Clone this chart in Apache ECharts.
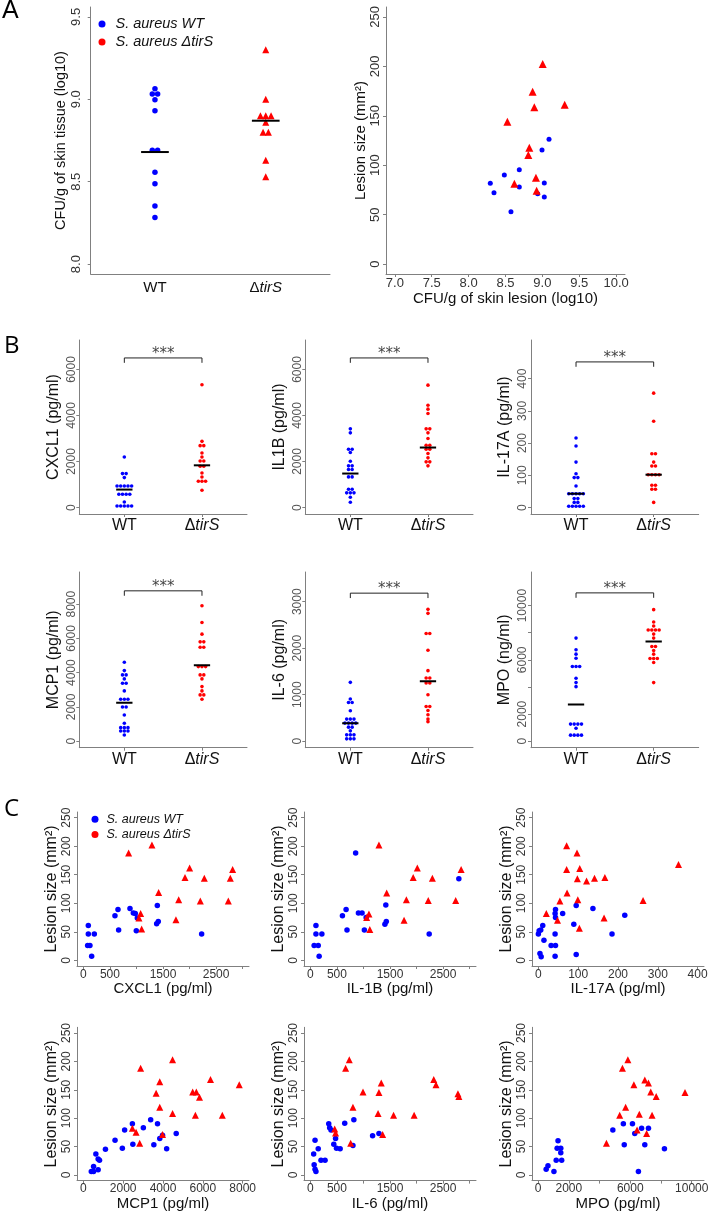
<!DOCTYPE html>
<html><head><meta charset="utf-8">
<script src="https://cdn.jsdelivr.net/npm/echarts@6/dist/echarts.min.js"></script>
<style>html,body{margin:0;padding:0;background:#fff}#c{width:714px;height:1212px}</style>
</head><body><div id="c"></div><script>
// ---------- DATA ----------
const WT_NAME = 'S. aureus WT';
const TIR_NAME = 'S. aureus \u0394tirS';
const groupLabels = ['WT', '\u0394tirS'];

// Panel A left: CFU/g of skin tissue (log10)
const aCfuWT  = [9.064, 9.032, 9.032, 8.997, 8.930, 8.691, 8.691, 8.557, 8.488, 8.352, 8.283];
const aCfuTir = [9.30, 9.00, 8.90, 8.90, 8.90, 8.86, 8.80, 8.80, 8.63, 8.53];
const aCfuMedian = [8.68, 8.87];
const aCfuTicks = [8.0, 8.5, 9.0, 9.5];

// Panel A right: lesion size vs CFU
const aLesWT  = [[8.294,81.7],[8.344,72.2],[8.484,90.1],[8.574,53],[8.687,95.5],[8.687,78],[8.936,71.2],[8.995,115.4],[9.026,82],[9.026,67.9],[9.09,126.2]];
const aLesTir = [[9.004,202.3],[8.868,174.4],[8.891,158.5],[9.302,161.2],[8.525,144],[8.823,117.7],[8.809,110.3],[8.913,87.4],[8.62,81.3],[8.922,74.3]];
const aCfuXTicks = [7.0, 7.5, 8.0, 8.5, 9.0, 9.5, 10.0];
const lesionTicks = [0, 50, 100, 150, 200, 250];

// Panel B: cytokines
const bNames = ['CXCL1 (pg/ml)', 'IL1B (pg/ml)', 'IL-17A (pg/ml)', 'MCP1 (pg/ml)', 'IL-6 (pg/ml)', 'MPO (ng/ml)'];
const cxcl1WT  = [2196,1475,1475,1301,937,937,937,937,937,577,577,577,577,243,69,69,69,69,69];
const cxcl1Tir = [5336,2876,2690,2690,2369,2196,2022,2022,1792,1792,1501,1328,1141,1141,1141,751];
const il1bWT   = [3420,3246,2536,2536,2391,2014,1811,1811,1652,1652,1333,1333,797,797,638,638,638,449,232];
const il1bTir  = [5318,4448,4275,4086,3420,3420,3246,3000,2710,2710,2536,2536,2347,2159,1985,1985,1811];
const il17aWT  = [216,191,141,105,93,93,67,43,43,43,43,43,28,28,16,16,4,4,4,4,4];
const il17aTir = [355,268,167,167,141,129,129,102,102,102,102,69,69,57,57,16];
const mcp1WT   = [4614,4123,3871,3871,3637,3384,3384,2936,2450,2450,2450,2000,2000,1532,1047,790,790,790,596,596,596,363];
const mcp1Tir  = [7906,6930,6250,5801,5801,5490,5490,4357,4357,4357,3871,3871,3637,3187,2936,2702,2702,2450];
const il6WT    = [1266,907,834,834,654,475,475,475,389,389,389,389,302,302,222,136,136,136,50,50,50];
const il6Tir   = [2836,2750,2318,2318,1957,1518,1360,1360,1253,1253,1000,747,747,661,568,475,420];
const mpoWT    = [7605,6740,6420,6123,5506,5506,5506,4642,4321,4025,1259,1259,1259,1259,950,444,444,444,444];
const mpoTir   = [9704,8790,8494,8198,8198,8198,8198,7901,7605,6988,6988,6691,6420,6099,6099,6099,5802,4321];
const bMedianWT  = [781, 1478, 43, 2251, 387, 2706];
const bMedianTir = [1835, 2608, 102, 4440, 1287, 7358];
const bBracket   = [6500, 6500, 452, 8780, 3185, 10940];
const bRange = [[-280,7280],[-280,7280],[-20,520],[-380,9880],[-140,3640],[-480,12480]];
const bTicks = [[0,2000,4000,6000],[0,2000,4000,6000],[0,100,200,300,400],[0,2000,4000,6000,8000],[0,1000,2000,3000],[0,2000,4000,6000,8000,10000]];
const bTickLabels = [[0,2000,4000,6000],[0,2000,4000,6000],[0,100,200,300,400],[0,2000,4000,6000,8000],[0,1000,2000,3000],[0,2000,6000,10000]];

// Panel C: lesion size vs cytokine
const cNames = ['CXCL1 (pg/ml)', 'IL-1B (pg/ml)', 'IL-17A (pg/ml)', 'MCP1 (pg/ml)', 'IL-6 (pg/ml)', 'MPO (pg/ml)'];
const cCxcl1WT  = [[93,61],[93,46],[206,46],[124,26],[80,26],[156,7],[595,78],[652,89],[664,53],[878,91],[941,83],[978,82],[1016,74],[997,52],[1380,64],[1393,96],[1411,68],[2228,46]];
const cCxcl1Tir = [[853,188],[1292,202],[1079,82],[1047,74],[1098,55],[1418,119],[1744,71],[1795,106],[1914,145],[2002,162],[2203,104],[2278,144],[2730,104],[2768,144],[2812,159]];
const cIl1bWT   = [[105,61],[105,46],[217,46],[71,26],[148,26],[165,7],[604,78],[673,89],[690,53],[853,188],[905,83],[974,83],[1017,53],[1051,75],[1404,63],[1421,97],[1430,68],[2238,46],[2797,143]];
const cIl1bTir  = [[1103,81],[1060,75],[1120,54],[1292,202],[1438,118],[1765,70],[1808,106],[1937,145],[2015,162],[2221,105],[2298,144],[2737,105],[2840,159]];
const cIl17aWT  = [[0,46],[2,52],[6,53],[11,61],[14,35],[4,12],[7,6],[32,26],[43,89],[42,82],[43,75],[42,46],[43,26],[42,7],[61,82],[89,63],[95,96],[95,10],[137,91],[185,46],[217,79]];
const cIl17aTir = [[20,82],[48,70],[54,104],[71,201],[71,159],[72,118],[97,188],[98,143],[99,106],[104,161],[103,56],[121,139],[141,144],[165,74],[167,145],[263,105],[352,168]];
const cMcp1WT   = [[513,15],[513,6],[398,6],[627,37],[742,9],[742,28],[811,26],[1109,45],[1591,61],[1958,47],[2072,79],[2462,90],[2485,54],[3013,83],[3380,97],[3540,53],[3724,90],[3838,64],[3976,70],[4183,46],[4664,73]];
const cMcp1Tir  = [[2462,82],[2646,75],[2829,56],[2875,188],[3655,144],[3838,164],[3838,119],[3976,71],[4481,203],[4481,108],[5490,146],[5627,105],[5674,146],[5834,137],[6385,168],[6980,105],[7829,159]];
const cIl6WT    = [[71,18],[88,10],[105,6],[62,37],[88,61],[148,46],[200,26],[277,26],[346,90],[363,83],[389,79],[441,54],[475,64],[492,47],[561,46],[647,91],[802,52],[819,97],[1172,69],[1292,73]];
const cIl6Tir   = [[458,81],[475,74],[759,56],[664,188],[733,203],[802,119],[991,146],[1275,108],[1292,145],[1335,162],[1361,71],[1567,105],[1954,105],[2324,168],[2367,159],[2780,143],[2797,138]];
const cMpoWT    = [[522,10],[641,16],[1028,6],[1176,26],[1236,47],[1295,60],[1474,39],[1474,47],[1533,26],[4864,79],[5548,90],[5607,53],[6142,90],[6291,73],[6529,6],[6737,82],[6945,53],[7183,82],[8224,46]];
const cMpoTir   = [[4447,56],[5309,105],[5488,188],[5696,119],[5845,203],[6232,159],[6440,79],[6588,107],[6945,167],[7064,73],[7331,146],[7420,105],[7688,138],[7183,162],[9562,145]];
const cRangeX = [[-120,3120],[-120,3120],[-16,416],[-320,8320],[-120,3120],[-400,10800]];
const cTicks = [[0,500,1000,1500,2000,2500,3000],[0,500,1000,1500,2000,2500,3000],[0,100,200,300,400],[0,2000,4000,6000,8000],[0,500,1000,1500,2000,2500,3000],[0,2000,4000,6000,8000,10000]];
const cTickLabels = [[0,500,1500,2500],[0,500,1500,2500],[0,100,200,300,400],[0,2000,4000,6000,8000],[0,500,1500,2500],[0,2000,6000,10000]];

// ---------- STYLE / LAYOUT ----------
const FONT = '"Liberation Sans", Arial, sans-serif';
const BLUE = '#0000ff', RED = '#ff0000', AXC = '#808080';
const grids = [], xAxes = [], yAxes = [], series = [];

function stack(values, center, step) {
  const groups = new Map();
  values.forEach(v => { if (!groups.has(v)) groups.set(v, 0); groups.set(v, groups.get(v) + 1); });
  const out = [];
  groups.forEach((n, v) => { for (let i = 0; i < n; i++) out.push([center + (i - (n - 1) / 2) * step, v]); });
  return out;
}
function axis(o) {
  return {
    type: 'value', gridIndex: o.g, min: o.min, max: o.max,
    axisLine: { show: true, onZero: false, lineStyle: { color: AXC, width: 1 } },
    axisTick: { show: !!o.ticks, length: 3, customValues: o.ticks || undefined, lineStyle: { color: AXC } },
    axisLabel: { show: true, customValues: o.labels, formatter: o.fmt, rotate: o.rot || 0, margin: o.margin,
      fontSize: o.fs, color: o.color, fontFamily: FONT, rich: o.rich },
    splitLine: { show: false },
    name: o.name, nameLocation: 'middle', nameGap: o.nameGap,
    nameTextStyle: { fontSize: o.nfs, color: '#111', fontFamily: FONT }
  };
}
const groupRich = (fs, col) => ({ n: { fontSize: fs, color: col, fontFamily: FONT }, i: { fontSize: fs, color: col, fontFamily: FONT, fontStyle: 'italic' } });
const groupFmt = v => (Math.abs(v - 1) < 1e-6 ? groupLabels[0] : '{n|\u0394}{i|' + groupLabels[1].slice(1) + '}');

function stripPanel(g, box, yr, yTicks, yLabels, yFmt, yName, wt, tir, medWT, medTir, o) {
  grids.push({ left: box[0], top: box[1], width: box[2], height: box[3], containLabel: false });
  xAxes.push(axis({ g, min: 0.42, max: 2.58, ticks: o.xTicks ? [1, 2] : null, labels: [1, 2], fmt: groupFmt,
    margin: o.xMargin, fs: o.xfs, color: '#111', rich: groupRich(o.xfs, '#111') }));
  yAxes.push(axis({ g, min: yr[0], max: yr[1], ticks: yTicks, labels: yLabels, fmt: yFmt, rot: 90,
    margin: o.yMargin, fs: o.yfs, color: o.ycol, name: yName, nameGap: o.nameGap, nfs: o.nfs }));
  series.push({ type: 'scatter', name: WT_NAME, xAxisIndex: g, yAxisIndex: g, data: stack(wt, 1, o.step),
    symbol: 'circle', symbolSize: o.dot, itemStyle: { color: BLUE, opacity: 1 }, z: 3 });
  series.push({ type: 'scatter', name: TIR_NAME, xAxisIndex: g, yAxisIndex: g, data: stack(tir, 2, o.step),
    symbol: o.tirSym, symbolSize: o.tirSize, itemStyle: { color: RED, opacity: 1 }, z: 3 });
  [[1, medWT], [2, medTir]].forEach(([c, m]) => series.push({ type: 'line', xAxisIndex: g, yAxisIndex: g,
    data: [[c - o.half, m], [c + o.half, m]], symbol: 'none', lineStyle: { color: '#000', width: 2 }, z: 5 }));
}
function scatterPanel(g, box, xr, xTicks, xLabels, xFmt, xName, wt, tir, o) {
  grids.push({ left: box[0], top: box[1], width: box[2], height: box[3], containLabel: false });
  xAxes.push(axis({ g, min: xr[0], max: xr[1], ticks: xTicks, labels: xLabels, fmt: xFmt,
    margin: o.xMargin, fs: o.xfs, color: '#333', name: xName, nameGap: o.xNameGap, nfs: o.xnfs }));
  yAxes.push(axis({ g, min: -10, max: 260, ticks: lesionTicks, labels: lesionTicks, fmt: v => String(v), rot: 90,
    margin: o.yMargin, fs: o.yfs, color: '#333', name: 'Lesion size (mm\u00B2)', nameGap: o.yNameGap, nfs: o.ynfs }));
  series.push({ type: 'scatter', name: WT_NAME, xAxisIndex: g, yAxisIndex: g, data: wt,
    symbol: 'circle', symbolSize: o.dot, itemStyle: { color: BLUE, opacity: 1 }, z: 3 });
  series.push({ type: 'scatter', name: TIR_NAME, xAxisIndex: g, yAxisIndex: g, data: tir,
    symbol: 'triangle', symbolSize: o.tri, itemStyle: { color: RED, opacity: 1 }, z: 4 });
}

// A left
stripPanel(0, [90.7, 7, 239.3, 267], [7.94, 9.56], aCfuTicks, aCfuTicks, v => v.toFixed(1),
  'CFU/g of skin tissue (log10)', aCfuWT, aCfuTir, aCfuMedian[0], aCfuMedian[1],
  { xTicks: false, xMargin: 6, xfs: 15, yMargin: 8, yfs: 13, ycol: '#333', nameGap: 20, nfs: 14.5,
    step: 0.048, dot: 5.5, tirSym: 'triangle', tirSize: 7, half: 0.125 });
// A right
scatterPanel(1, [386, 7, 239, 267], [6.88, 10.12], aCfuXTicks, aCfuXTicks, v => v.toFixed(1),
  'CFU/g of skin lesion (log10)', aLesWT, aLesTir,
  { xMargin: 3, xfs: 13, xNameGap: 15, xnfs: 15, yMargin: 4, yfs: 13, yNameGap: 16, ynfs: 15, dot: 5, tri: 8 });

// B
const bWT = [cxcl1WT, il1bWT, il17aWT, mcp1WT, il6WT, mpoWT];
const bTir = [cxcl1Tir, il1bTir, il17aTir, mcp1Tir, il6Tir, mpoTir];
const bLefts = [79.3, 305.3, 531], bTops = [340, 572], bHeights = [174, 175.7];
for (let k = 0; k < 6; k++) {
  const g = 2 + k, col = k % 3, row = Math.floor(k / 3);
  stripPanel(g, [bLefts[col], bTops[row], 167.7, bHeights[row]], bRange[k], bTicks[k], bTickLabels[k], v => String(v),
    bNames[k], bWT[k], bTir[k], bMedianWT[k], bMedianTir[k],
    { xTicks: true, xMargin: 4, xfs: 16, yMargin: 2, yfs: 12, ycol: '#555', nameGap: 18, nfs: 16,
      step: 0.047, dot: 3.6, tirSym: 'circle', tirSize: 3.6, half: 0.105 });
  const top = bBracket[k], drop = 0.028 * (bRange[k][1] - bRange[k][0]);
  series.push({ type: 'line', xAxisIndex: g, yAxisIndex: g, data: [[1, top - drop], [1, top], [2, top], [2, top - drop]],
    symbol: 'none', lineStyle: { color: '#222', width: 1 }, z: 2 });
  series.push({ type: 'scatter', xAxisIndex: g, yAxisIndex: g, data: [[1.5, top]], symbolSize: 1,
    itemStyle: { color: 'rgba(0,0,0,0)' },
    label: { show: true, formatter: '***', position: 'top', distance: -4, fontSize: 15, color: '#111', fontFamily: '"DejaVu Sans", sans-serif' } });
}

// C
const cWT = [cCxcl1WT, cIl1bWT, cIl17aWT, cMcp1WT, cIl6WT, cMpoWT];
const cTir = [cCxcl1Tir, cIl1bTir, cIl17aTir, cMcp1Tir, cIl6Tir, cMpoTir];
const cLefts = [77, 304, 532], cTops = [812, 1027.3];
for (let k = 0; k < 6; k++) {
  const g = 8 + k, col = k % 3, row = Math.floor(k / 3);
  scatterPanel(g, [cLefts[col], cTops[row], 172, 154], cRangeX[k], cTicks[k], cTickLabels[k], v => String(v),
    cNames[k], cWT[k], cTir[k],
    { xMargin: 2.5, xfs: 12, xNameGap: 14, xnfs: 15, yMargin: 4, yfs: 12, yNameGap: 17, ynfs: 16, dot: 5.5, tri: 7 });
}

const legendData = [{ name: WT_NAME, icon: 'circle' }, { name: TIR_NAME, icon: 'circle' }];
const option = {
  animation: false,
  backgroundColor: '#fff',
  title: [
    { text: 'A', left: 2, top: -1, padding: 0, textStyle: { fontSize: 25, fontWeight: 'normal', color: '#000', fontFamily: FONT } },
    { text: 'B', left: 4, top: 334, padding: 0, textStyle: { fontSize: 24, fontWeight: 'normal', color: '#000', fontFamily: '"Open Sans", sans-serif' } },
    { text: 'C', left: 4, top: 797, padding: 0, textStyle: { fontSize: 24, fontWeight: 'normal', color: '#000', fontFamily: '"Open Sans", sans-serif' } }
  ],
  legend: [
    { left: 98.5, top: 15, padding: 0, orient: 'vertical', itemWidth: 7, itemHeight: 7, itemGap: 0, selectedMode: false,
      data: legendData, itemStyle: { opacity: 1 },
      textStyle: { fontSize: 14.5, fontStyle: 'italic', color: '#111', lineHeight: 18, padding: [0, 0, 0, 5], fontFamily: FONT } },
    { left: 91.5, top: 811.5, padding: 0, orient: 'vertical', itemWidth: 7, itemHeight: 7, itemGap: 0, selectedMode: false,
      data: legendData, itemStyle: { opacity: 1 },
      textStyle: { fontSize: 12.5, fontStyle: 'italic', color: '#111', lineHeight: 15.3, padding: [0, 0, 0, 3], fontFamily: FONT } }
  ],
  grid: grids, xAxis: xAxes, yAxis: yAxes, series: series
};
const chart = echarts.init(document.getElementById('c'), null, { renderer: 'canvas' });
chart.setOption(option);
</script></body></html>
